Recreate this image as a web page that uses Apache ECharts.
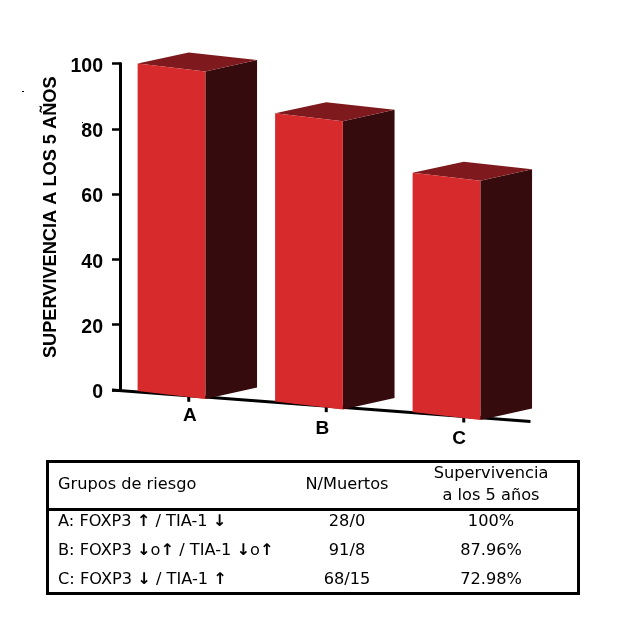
<!DOCTYPE html>
<html><head><meta charset="utf-8">
<style>html,body{margin:0;padding:0;background:#fff}#c{width:637px;height:618px}</style>
<script src="https://cdn.jsdelivr.net/npm/echarts@6/dist/echarts.min.js"></script>
</head><body><div id="c"></div>
<script>
const categories = ['A', 'B', 'C'];
const survival = [100, 87.96, 72.98];
const yTicks = [0, 20, 40, 60, 80, 100];
const yTitle = 'SUPERVIVENCIA A LOS 5 AÑOS';
const headFirst = 'Grupos de riesgo';
const headSecond = 'N/Muertos';
const headThird = ['Supervivencia', 'a los 5 años'];
const rowGroups = ['A: FOXP3 ↑ / TIA-1 ↓', 'B: FOXP3 ↓o↑ / TIA-1 ↓o↑', 'C: FOXP3 ↓ / TIA-1 ↑'];
const rowCounts = ['28/0', '91/8', '68/15'];
const rowSurvival = ['100%', '87.96%', '72.98%'];

const labelPad = [[16, 0, 2], [29, 8, 0], [39, 9.5, 0]];
const FRONT = '#d62a2c', SIDE = '#360b0d', TOP = '#7e1a1d';
const chart = echarts.init(document.getElementById('c'), null, {renderer: 'canvas'});
const tFont = '"DejaVu Sans"', tSize = 16.2;

function tableText(text, x, y, align) {
  return {type: 'text', x, y, silent: true, style: {
    text: text.replace(/[↑↓]/g, m => '{b|' + m + '}'),
    fill: '#000', font: tSize + 'px ' + tFont, textAlign: align, textVerticalAlign: 'middle',
    rich: {b: {fontFamily: tFont, fontWeight: 'bold', fontSize: tSize, fill: '#000'}}
  }};
}
const rowY = [522, 551, 580];
const tableEls = [
  {type: 'rect', shape: {x: 47.5, y: 461.5, width: 531, height: 132}, silent: true, style: {fill: 'none', stroke: '#000', lineWidth: 3}},
  {type: 'line', shape: {x1: 47, y1: 509.5, x2: 579, y2: 509.5}, silent: true, style: {stroke: '#000', lineWidth: 3}},
  tableText(headFirst, 58, 485, 'left'),
  tableText(headSecond, 347, 485, 'center'),
  tableText(headThird[0], 491, 474, 'center'),
  tableText(headThird[1], 491, 496, 'center'),
  {type: 'rect', shape: {x: 22, y: 91, width: 2, height: 1}, silent: true, style: {fill: '#000'}},
  {type: 'rect', shape: {x: 82, y: 122, width: 1, height: 1}, silent: true, style: {fill: '#000'}}
];
rowGroups.forEach((g, i) => {
  tableEls.push(tableText(g, 58, rowY[i], 'left'));
  tableEls.push(tableText(rowCounts[i], 347, rowY[i], 'center'));
  tableEls.push(tableText(rowSurvival[i], 491, rowY[i], 'center'));
});

function renderBase(params, api) {
  const cs = params.coordSys;
  const base = api.coord([api.value(0), 0]);
  const slope = 31.5 / 418;
  const yAt = x => cs.y + cs.height + (x - (cs.x - 8)) * slope;
  const ls = {stroke: '#000', lineWidth: 3, fill: null};
  const children = [{type: 'line', shape: {x1: base[0], y1: yAt(base[0]), x2: base[0], y2: yAt(base[0]) + 6}, style: ls}];
  if (params.dataIndex === 0) {
    const xe = cs.x + cs.width - 2;
    children.push({type: 'line', shape: {x1: cs.x - 8, y1: yAt(cs.x - 8), x2: xe, y2: yAt(xe)}, style: ls});
  }
  return {type: 'group', children};
}
function renderBar(params, api) {
  const cs = params.coordSys;
  const v = api.value(1), c = api.value(0);
  const top = api.coord([c, v]), base = api.coord([c, 0]);
  const band = api.size([1, 0])[0];
  const left = base[0] - band * 0.372;
  const s = 0.0764 * (left - cs.x - 5);
  const fw = band * 0.4927, bw = band * 0.8686;
  const yt = top[1] + s - 1, yb = base[1] + s;
  const poly = (pts, fill) => ({type: 'polygon', shape: {points: pts}, style: {fill}});
  return {type: 'group', children: [
    poly([[left + fw, yt + 8], [left + bw, yt - 3.5], [left + bw, yb - 3.5], [left + fw, yb + 8]], SIDE),
    poly([[left, yt], [left + band * 0.372, yt - 11], [left + bw, yt - 3.5], [left + fw, yt + 8]], TOP),
    poly([[left, yt], [left + fw, yt + 8], [left + fw, yb + 8], [left, yb]], FRONT)
  ]};
}

chart.setOption({
  animation: false,
  backgroundColor: '#fff',
  grid: {left: 120, top: 63.5, width: 412.5, height: 326.5, containLabel: false},
  xAxis: {
    type: 'category',
    data: categories.map((c, i) => ({value: c, textStyle: {padding: [labelPad[i][0], labelPad[i][1], 0, labelPad[i][2]]}})),
    axisLine: {show: false}, axisTick: {show: false},
    axisLabel: {show: true, interval: 0, margin: 0, fontFamily: '"Liberation Sans"', fontWeight: 'bold', fontSize: 19, color: '#000', verticalAlign: 'top'}
  },
  yAxis: {
    type: 'value', min: yTicks[0], max: yTicks[yTicks.length - 1], interval: 20,
    name: yTitle, nameLocation: 'middle', nameGap: 59,
    nameTextStyle: {fontFamily: '"Liberation Sans"', fontWeight: 'bold', fontSize: 18.2, color: '#000', padding: [0, 0, 0, 19]},
    axisLine: {show: true, lineStyle: {color: '#000', width: 3}},
    axisTick: {show: true, length: 8, lineStyle: {color: '#000', width: 2.5}},
    axisLabel: {margin: 17, fontFamily: '"Liberation Sans"', fontWeight: 'bold', fontSize: 19.5, color: '#000', verticalAlign: 'top', padding: [-7, 0, 0, 0]},
    splitLine: {show: false}
  },
  series: [
    {type: 'custom', z: 1, silent: true, renderItem: renderBase, clip: false, encode: {x: 0, y: 1}, data: survival.map((v, i) => [i, v])},
    {type: 'custom', z: 2, silent: true, renderItem: renderBar, clip: false, encode: {x: 0, y: 1}, data: survival.map((v, i) => [i, v])}
  ],
  graphic: {elements: tableEls}
});
</script></body></html>
